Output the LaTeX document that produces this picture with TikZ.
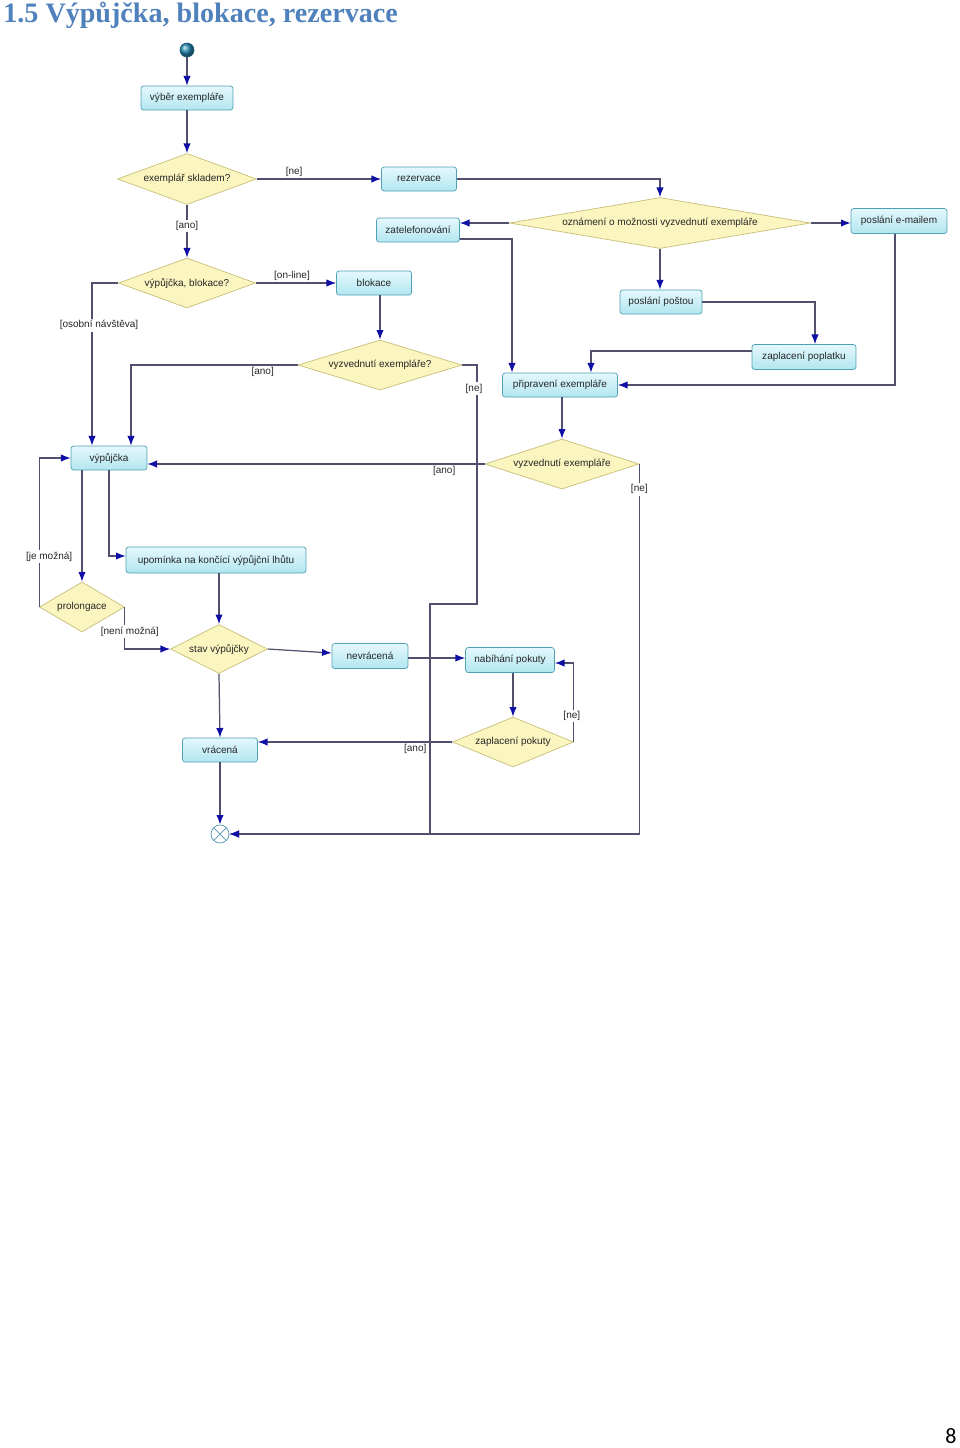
\documentclass[tikz,border=0pt]{standalone}
\usepackage{fontspec}
\newfontfamily\uifont{Liberation Sans}
\newfontfamily\headfont{Liberation Serif}
\newfontfamily\pagefont{Carlito}
\usepackage{tikz}
\usetikzlibrary{arrows.meta, shapes.geometric}
\definecolor{nadpisc}{RGB}{79,129,189}
\definecolor{car}{RGB}{80,80,110}
\definecolor{sipka}{RGB}{15,15,165}
\definecolor{akceline}{RGB}{80,160,180}
\definecolor{akcetop}{RGB}{228,248,252}
\definecolor{akcebot}{RGB}{178,230,240}
\definecolor{rozhline}{RGB}{200,190,120}
\definecolor{rozhfill}{RGB}{251,245,192}
\definecolor{startc}{RGB}{40,140,180}
\definecolor{konecc}{RGB}{90,150,170}
\newcommand{\malyfont}{\uifont\fontsize{5.7}{6.5}\selectfont}

\begin{document}
\begin{tikzpicture}[x=0.02cm, y=-0.02cm,
    hrana/.style={draw=car, line width=0.7pt, >={Latex[length=5.5pt,width=4.2pt,color=sipka]}},
    akce/.style={draw=akceline, rounded corners=1.5pt, top color=akcetop, bottom color=akcebot,
        font=\malyfont, text=black!85, minimum height=0.48cm, inner sep=1pt},
    rozh/.style={shape=diamond, draw=rozhline, fill=rozhfill, aspect=3, inner sep=0pt,
        font=\malyfont, text=black!85},
    lab/.style={font=\malyfont, text=black!85, inner sep=1pt}]
    \useasboundingbox (0,0) rectangle (960,1448);
    \node[anchor=base west, inner sep=0, text=nadpisc, font=\headfont\bfseries\fontsize{16}{18}\selectfont] (nadpis) at (3,22) {1.5 Výpůjčka, blokace, rezervace}; %nadpis
    \node[inner sep=0, font=\pagefont\fontsize{12.5}{14}\selectfont] (strana) at (951,1436) {8}; %strana
    % uzly
    \node[circle, minimum size=0.28cm, inner sep=0, ball color=startc, draw=startc!70!black, thin] (start) at (187,50) {}; %pocatek
    \node[akce, minimum width=1.84cm] (vyber) at (187,98) {výběr exempláře};
    \node[rozh, minimum width=2.78cm, minimum height=1.02cm] (sklad) at (187,179) {exemplář skladem?};
    \node[akce, minimum width=1.5cm] (rez) at (419,179) {rezervace};
    \node[rozh, aspect=6, minimum width=6.02cm, minimum height=1.02cm] (ozn) at (660,223) {oznámení o možnosti vyzvednutí exempláře};
    \node[akce, minimum width=1.66cm] (zatel) at (418,230) {zatelefonování};
    \node[akce, minimum width=1.92cm, minimum height=0.5cm] (email) at (899,221) {poslání e-mailem};
    \node[akce, minimum width=1.64cm] (posta) at (661,302) {poslání poštou};
    \node[akce, minimum width=2.08cm, minimum height=0.5cm] (poplatek) at (804,357) {zaplacení poplatku};
    \node[akce, minimum width=2.3cm] (prip) at (560,385) {připravení exempláře};
    \node[rozh, minimum width=3.08cm, minimum height=1cm] (vyzv2) at (562,464) {vyzvednutí exempláře};
    \node[rozh, minimum width=2.74cm, minimum height=1cm] (vbl) at (187,283) {výpůjčka, blokace?};
    \node[akce, minimum width=1.5cm] (blok) at (374,283) {blokace};
    \node[rozh, minimum width=3.28cm, minimum height=1cm] (vyzv1) at (380,365) {vyzvednutí exempláře?};
    \node[akce, minimum width=1.52cm] (vyp) at (109,458) {výpůjčka};
    \node[akce, minimum width=3.6cm, minimum height=0.52cm] (upom) at (216,560) {upomínka na končící výpůjční lhůtu};
    \node[rozh, minimum width=1.7cm, minimum height=1cm] (prol) at (82,607) {prolongace};
    \node[rozh, minimum width=1.94cm, minimum height=0.98cm] (stav) at (219,649) {stav výpůjčky};
    \node[akce, minimum width=1.52cm, minimum height=0.5cm] (nevr) at (370,656) {nevrácená};
    \node[akce, minimum width=1.78cm, minimum height=0.5cm] (nab) at (510,660) {nabíhání pokuty};
    \node[akce, minimum width=1.5cm] (vrac) at (220,750) {vrácená};
    \node[rozh, minimum width=2.42cm, minimum height=1cm] (zapl) at (513,742) {zaplacení pokuty};
    \node[circle, minimum size=0.36cm, inner sep=0, draw=konecc, fill=white] (konec) at (220,834) {}; %konec
    \draw[konecc] (konec.45) -- (konec.225) (konec.135) -- (konec.315);
    \coordinate (b2) at (477,604); %ohyb
    \coordinate (b3) at (430,604);
    % hrany
    \draw[hrana,->] (start) -- (vyber);
    \draw[hrana,->] (vyber) -- (sklad);
    \draw[hrana,->] (sklad) -- (rez) node[lab, pos=0.3, above] {[ne]};
    \draw[hrana,->] (rez.east) -| (ozn.north);
    \draw[hrana,->] (sklad) -- (vbl) node[lab, pos=0.4, fill=white] {[ano]};
    \draw[hrana,->] (vbl) -- (blok) node[lab, pos=0.45, above] {[on-line]};
    \draw[hrana,->] (blok.south -| vyzv1.north) -- (vyzv1.north);
    \draw[hrana,->] (vyzv1.west) -| ([shift={(22,0)}]vyp.north) node[lab, pos=0.105, below] {[ano]};
    \draw[hrana,->] (vbl.west) -| ([shift={(-17,0)}]vyp.north) node[lab, pos=0.63, xshift=0.14cm, fill=white] {[osobní návštěva]};
    \draw[hrana,->] (ozn.west) -- (ozn.west -| zatel.east);
    \draw[hrana,->] (ozn.east) -- (ozn.east -| email.west);
    \draw[hrana,->] (ozn.south) -- (posta.north -| ozn.south);
    \draw[hrana,->] (posta.east) -| ([shift={(11,0)}]poplatek.north);
    \draw[hrana,->] ([shift={(0,-6)}]poplatek.west) -| ([shift={(31,0)}]prip.north);
    \draw[hrana,->] ([shift={(0,9)}]zatel.east) -| ([shift={(-48,0)}]prip.north);
    \draw[hrana,->] ([shift={(-4,0)}]email.south) |- (prip.east);
    \draw[hrana,->] (prip.south -| vyzv2.north) -- (vyzv2.north);
    \draw[hrana,->] (vyzv2.west) -- (vyzv2.west -| vyp.east) node[lab, pos=0.12, below] {[ano]};
    \draw[hrana,->] (vyzv2.east) |- (konec.east) node[lab, pos=0.034, fill=white] {[ne]};
    \draw[hrana,->] (vyzv1.east) -| (b2) node[lab, pos=0.55, xshift=-0.06cm, fill=white] {[ne]} -- (b3) |- (konec.east);
    \draw[hrana,->] (vyp.south -| prol.north) -- (prol.north);
    \draw[hrana,->] (vyp.south) |- ([shift={(0,-4)}]upom.west);
    \draw[hrana,->] (prol.west) |- (vyp.west) node[lab, pos=0.17, xshift=0.2cm, fill=white] {[je možná]};
    \draw[hrana,->] (prol.east) |- (stav.west) node[lab, pos=0.29, xshift=0.1cm, fill=white] {[není možná]};
    \draw[hrana,->] (upom.south -| stav.north) -- (stav.north);
    \draw[hrana,->] (stav.east) -- ([shift={(0,-3)}]nevr.west);
    \draw[hrana,->] ([shift={(0,2)}]nevr.east) -- ([shift={(0,-2)}]nab.west);
    \draw[hrana,->] (stav.south) -- (vrac.north);
    \draw[hrana,->] (nab.south -| zapl.north) -- (zapl.north);
    \draw[hrana,->] (zapl.east) |- ([shift={(0,3)}]nab.east) node[lab, pos=0.165, xshift=-0.04cm, fill=white] {[ne]};
    \draw[hrana,->] (zapl.west) -- (zapl.west -| vrac.east) node[lab, pos=0.19, below] {[ano]};
    \draw[hrana,->] (vrac.south) -- (konec.north);
\end{tikzpicture}
\end{document}
